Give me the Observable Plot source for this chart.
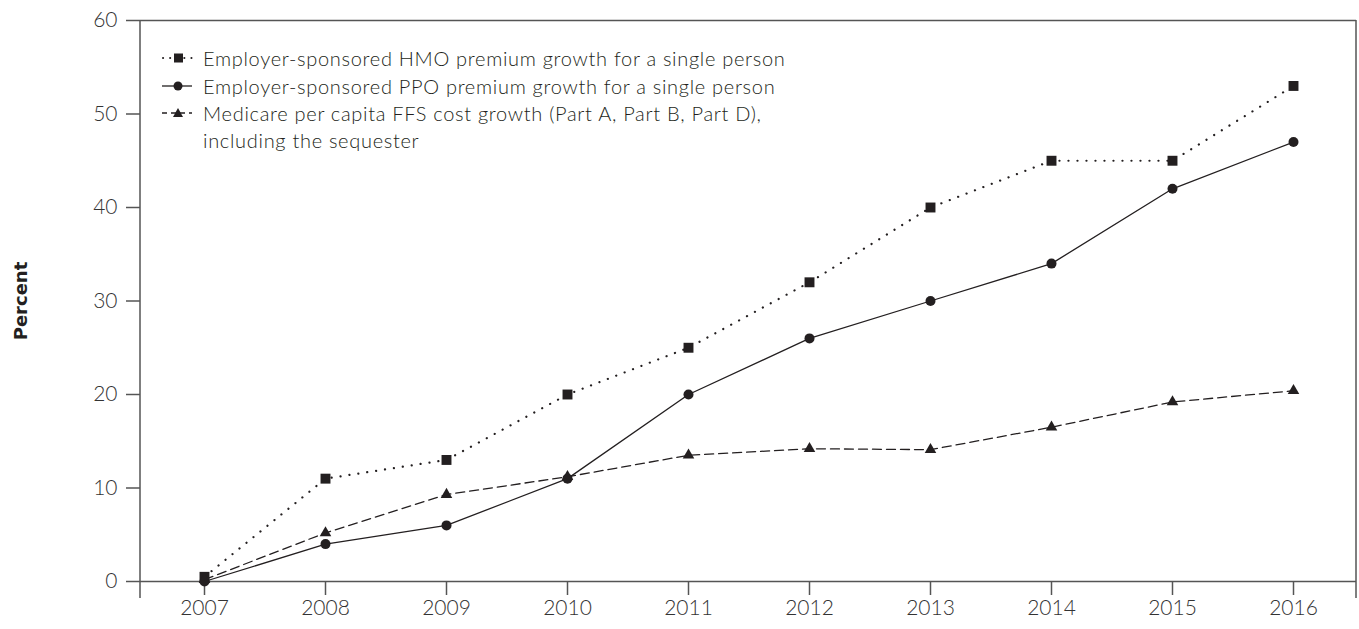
<!DOCTYPE html>
<html><head><meta charset="utf-8">
<script src="https://cdn.jsdelivr.net/npm/d3@7"></script>
<script src="https://cdn.jsdelivr.net/npm/@observablehq/plot@0.6"></script>
<style>
body{margin:0;background:#fff;}
#wrap{position:relative;width:1359px;height:629px;overflow:hidden;}
.lg{position:absolute;left:160px;height:26px;display:flex;align-items:center;font-family:Lato,sans-serif;font-weight:300;font-size:20px;letter-spacing:0.7px;color:#231f20;white-space:nowrap;}
.lg svg{margin-right:9px;}
.lg span{display:inline-block;}
</style></head><body><div id="wrap"><div id="chart"></div></div>
<script>
const years = [2007, 2008, 2009, 2010, 2011, 2012, 2013, 2014, 2015, 2016];
const hmo = [0.5, 11, 13, 20, 25, 32, 40, 45, 45, 53];
const ppo = [0, 4, 6, 11, 20, 26, 30, 34, 42, 47];
const medicare = [0.2, 5.2, 9.3, 11.2, 13.5, 14.2, 14.1, 16.5, 19.2, 20.4];
const seriesNames = [
  "Employer-sponsored HMO premium growth for a single person",
  "Employer-sponsored PPO premium growth for a single person",
  "Medicare per capita FFS cost growth (Part A, Part B, Part D),",
  "including the sequester"
];
const yTicks = [0, 10, 20, 30, 40, 50, 60];
const yLabel = "Percent";

const ink = "#231f20", axisCol = "#555";
const rows = (vals) => years.map((year, i) => ({year, value: vals[i]}));
const hmoRows = rows(hmo), ppoRows = rows(ppo), medRows = rows(medicare);

const frameExt = (index, scales, values, dims) => {
  const l = dims.marginLeft, r = dims.width - dims.marginRight, t = dims.marginTop, b = dims.height - dims.marginBottom;
  const g = d3.create("svg:g").attr("fill", "none").attr("stroke", axisCol).attr("stroke-width", 1.5);
  g.append("path").attr("d", `M${l},${t}V${b + 17}M${r},${t}V${b + 17}`);
  return g.node();
};

const chart = Plot.plot({
  width: 1359, height: 629,
  marginLeft: 140, marginRight: 3, marginTop: 20, marginBottom: 48,
  style: {fontFamily: "Lato, sans-serif", fontWeight: 300, fontSize: "21px", color: "#333", background: "white"},
  x: {type: "point", domain: years, padding: 0.5, label: null},
  y: {domain: [0, 60], label: null},
  marks: [
    Plot.ruleY([0, 60], {stroke: axisCol, strokeWidth: 1.5}),
    frameExt,
    Plot.axisY({ticks: yTicks, tickSize: 14, tickPadding: 9, stroke: axisCol, strokeWidth: 1.5, label: null, fontSize: 21}),
    Plot.axisX({tickSize: 14, tickPadding: 5, stroke: axisCol, strokeWidth: 1.5, label: null, tickFormat: d => String(d), fontSize: 21}),
    Plot.text([yLabel], {frameAnchor: "left", textAnchor: "middle", dx: -119, rotate: -90, fontWeight: "bold", fontSize: 18, fontFamily: "DejaVu Sans, sans-serif", fill: ink}),
    Plot.line(hmoRows, {x: "year", y: "value", stroke: ink, strokeWidth: 2.2, strokeDasharray: "0.1,8.9", strokeLinecap: "round"}),
    Plot.line(ppoRows, {x: "year", y: "value", stroke: ink, strokeWidth: 1.3}),
    Plot.line(medRows, {x: "year", y: "value", stroke: ink, strokeWidth: 1.3, strokeDasharray: "9,5"}),
    Plot.dot(hmoRows, {x: "year", y: "value", symbol: "square", r: 5.6, fill: ink}),
    Plot.dot(ppoRows, {x: "year", y: "value", symbol: "circle", r: 5, fill: ink}),
    Plot.dot(medRows, {x: "year", y: "value", symbol: "triangle", r: 4.3, fill: ink})
  ]
});
document.getElementById("chart").append(chart);

// legend overlay inside the plot area
const wrap = document.getElementById("wrap");
const swatches = [
  `<svg width="34" height="14"><line x1="3" y1="7" x2="33" y2="7" stroke="${ink}" stroke-width="2" stroke-dasharray="0.1,7" stroke-linecap="round"/><rect x="14" y="2.5" width="9" height="9" fill="${ink}"/></svg>`,
  `<svg width="34" height="14"><line x1="2" y1="7" x2="32" y2="7" stroke="${ink}" stroke-width="1.3"/><circle cx="18" cy="7" r="4.5" fill="${ink}"/></svg>`,
  `<svg width="34" height="14"><line x1="2" y1="7" x2="32" y2="7" stroke="${ink}" stroke-width="1.3" stroke-dasharray="5,4"/><path d="M18,2L23,11H13Z" fill="${ink}"/></svg>`,
  `<svg width="34" height="14"></svg>`
];
const centers = [58, 85.5, 113, 140];
seriesNames.forEach((name, i) => {
  const d = document.createElement("div");
  d.className = "lg";
  d.style.top = (centers[i] - 13) + "px";
  d.innerHTML = swatches[i] + `<span>${name}</span>`;
  wrap.append(d);
});
</script></body></html>
